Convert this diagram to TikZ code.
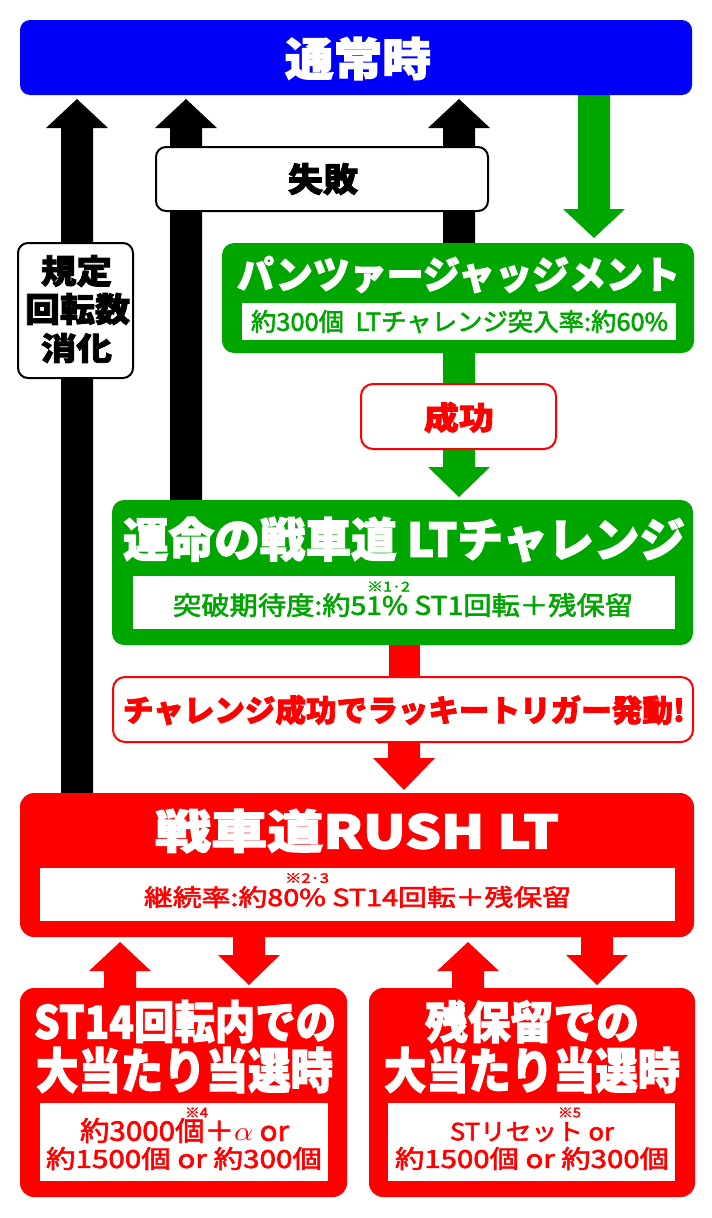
\documentclass[tikz,border=0pt]{standalone}
\usepackage{fontspec}
\usepackage{graphicx}
\setmainfont{Noto Sans CJK JP}
\newfontfamily\jpheavy{Noto Sans CJK JP}[FakeBold=2.5]
\newfontfamily\jpmed{Noto Sans CJK JP}[FakeBold=2.2]
\definecolor{jblue}{RGB}{0,0,250}
\definecolor{jgreen}{RGB}{0,166,0}
\definecolor{jred}{RGB}{255,0,0}
\newcommand\FitT[3]{\resizebox*{#1pt}{#2pt}{#3}}
% color, x centre, tip y, head base y, tail y
\newcommand\BlockArr[5]{\fill[#1] ({#2-16},#5) -- ({#2-16},#4) -- ({#2-31},#4) -- (#2,#3) -- ({#2+31},#4) -- ({#2+16},#4) -- ({#2+16},#5) -- cycle;}
\begin{document}
\begin{tikzpicture}[x=1pt,y=-1pt,
  txt/.style={inner sep=0pt,outer sep=0pt,anchor=center},
  panel/.style={rounded corners=12pt,inner sep=0pt},
  bluepanel/.style={panel,fill=jblue,rounded corners=10pt},
  greenpanel/.style={panel,fill=jgreen},
  redpanel/.style={panel,fill=jred,rounded corners=14pt},
  inbox/.style={fill=white,inner sep=0pt},
  blacklabel/.style={fill=white,draw=black,line width=2pt,rounded corners=10pt,inner sep=0pt},
  redlabel/.style={fill=white,draw=jred,line width=2pt,rounded corners=12pt,inner sep=0pt},
  heavy/.style={txt,font=\jpheavy\bfseries},
  med/.style={txt,font=\jpmed},
  note/.style={txt,font=\jpmed}]
\useasboundingbox (0,0) rectangle (712,1218);
\fill[white] (0,0) rectangle (712,1218);
% ---- block arrows
\BlockArr{black}{77}{99}{128}{796}
\BlockArr{black}{186}{99}{128}{502}
\BlockArr{black}{459}{99}{128}{245}
\BlockArr{jgreen}{594}{238}{209}{94}
\BlockArr{jgreen}{459}{497}{467}{350}
\fill[jred] (388.5,642) rectangle (419.5,680);
\BlockArr{jred}{404}{790}{758}{740}
\BlockArr{jred}{120}{942}{971}{990}
\BlockArr{jred}{249}{985}{955}{935}
\BlockArr{jred}{468}{942}{971}{990}
\BlockArr{jred}{597}{985}{955}{935}
% ---- panels
\node[bluepanel,minimum width=672pt,minimum height=75pt] (normal) at (356,57.5) {};
\node[blacklabel,minimum width=332pt,minimum height=64pt] (fail) at (322,179) {};
\node[blacklabel,minimum width=115pt,minimum height=135pt] (rule) at (75.5,310.5) {};
\node[greenpanel,minimum width=472pt,minimum height=110pt] (judge) at (458,298) {};
\node[inbox,minimum width=434pt,minimum height=37pt] (judgein) at (459,321.5) {};
\node[redlabel,minimum width=195pt,minimum height=65pt] (win) at (458.5,416.5) {};
\node[greenpanel,minimum width=581pt,minimum height=145pt] (chal) at (402.5,572.5) {};
\node[inbox,minimum width=542pt,minimum height=53pt] (chalin) at (404,602.5) {};
\node[redlabel,minimum width=580pt,minimum height=65pt] (trig) at (403,709.5) {};
\node[redpanel,minimum width=674pt,minimum height=144pt] (rush) at (357,865) {};
\node[inbox,minimum width=635pt,minimum height=53pt] (rushin) at (357.5,894.5) {};
\node[redpanel,minimum width=327pt,minimum height=209pt] (stL) at (183.5,1092.5) {};
\node[inbox,minimum width=288pt,minimum height=78pt] (stLin) at (184,1142) {};
\node[redpanel,minimum width=326pt,minimum height=209pt] (stR) at (532,1092.5) {};
\node[inbox,minimum width=287pt,minimum height=78pt] (stRin) at (531.5,1142) {};
% ---- texts
\node[heavy,text=white] (tNormal) at (358,58.5) {\FitT{146}{43}{通常時}};
\node[heavy,text=black] (tFail) at (323,179) {\FitT{70}{32}{失敗}};
\node[heavy,text=black] (tRule1) at (76.5,271) {\FitT{71}{32}{規定}};
\node[heavy,text=black] (tRule2) at (77.5,309) {\FitT{105}{32}{回転数}};
\node[heavy,text=black] (tRule3) at (76.5,348) {\FitT{71}{30}{消化}};
\node[heavy,text=white] (tJudge) at (458.5,274.5) {\FitT{443}{37}{パンツァージャッジメント}};
\node[med,text=jgreen] (tJudgeIn) at (459.5,321.5) {\FitT{417}{23}{約300個\hspace{0.45em}LTチャレンジ突入率:約60\%}};
\node[heavy,text=jred] (tWin) at (459,417.5) {\FitT{70}{31}{成功}};
\node[heavy,text=white] (tChal) at (404,539.5) {\FitT{562}{45}{運命の戦車道 LTチャレンジ}};
\node[med,text=jgreen] (tChalIn) at (403,605) {\FitT{460}{24}{突破期待度:約51\% ST1回転＋残保留}};
\node[note,text=jgreen] (nChal) at (388.5,586.5) {\FitT{43}{10}{※1·2}};
\node[heavy,text=jred] (tTrig) at (404,710) {\FitT{562}{30}{チャレンジ成功でラッキートリガー発動!}};
\node[heavy,text=white] (tRush) at (357,831) {\FitT{404}{44}{戦車道RUSH LT}};
\node[med,text=jred] (tRushIn) at (357.5,897) {\FitT{427}{22}{継続率:約80\% ST14回転＋残保留}};
\node[note,text=jred] (nRush) at (307,878) {\FitT{44}{10}{※2·3}};
\node[heavy,text=white] (tL1) at (185,1021.5) {\FitT{302}{43}{ST14回転内での}};
\node[heavy,text=white] (tL2) at (184.5,1070) {\FitT{297}{46}{大当たり当選時}};
\node[heavy,text=white] (tR1) at (532,1021.5) {\FitT{214}{43}{残保留での}};
\node[heavy,text=white] (tR2) at (532,1070) {\FitT{296}{46}{大当たり当選時}};
\node[med,text=jred] (tLin1) at (184.5,1130.5) {\FitT{209}{25}{約3000個＋$\alpha$ or}};
\node[med,text=jred] (tLin2) at (184,1158.5) {\FitT{276}{23}{約1500個 or 約300個}};
\node[note,text=jred] (nL) at (196.5,1112.5) {\FitT{23}{10}{※4}};
\node[med,text=jred] (tRin1) at (532,1132) {\FitT{164}{20}{STリセット or}};
\node[med,text=jred] (tRin2) at (532,1158.5) {\FitT{274}{23}{約1500個 or 約300個}};
\node[note,text=jred] (nR) at (569.5,1112.5) {\FitT{23}{10}{※5}};
\end{tikzpicture}
\end{document}
